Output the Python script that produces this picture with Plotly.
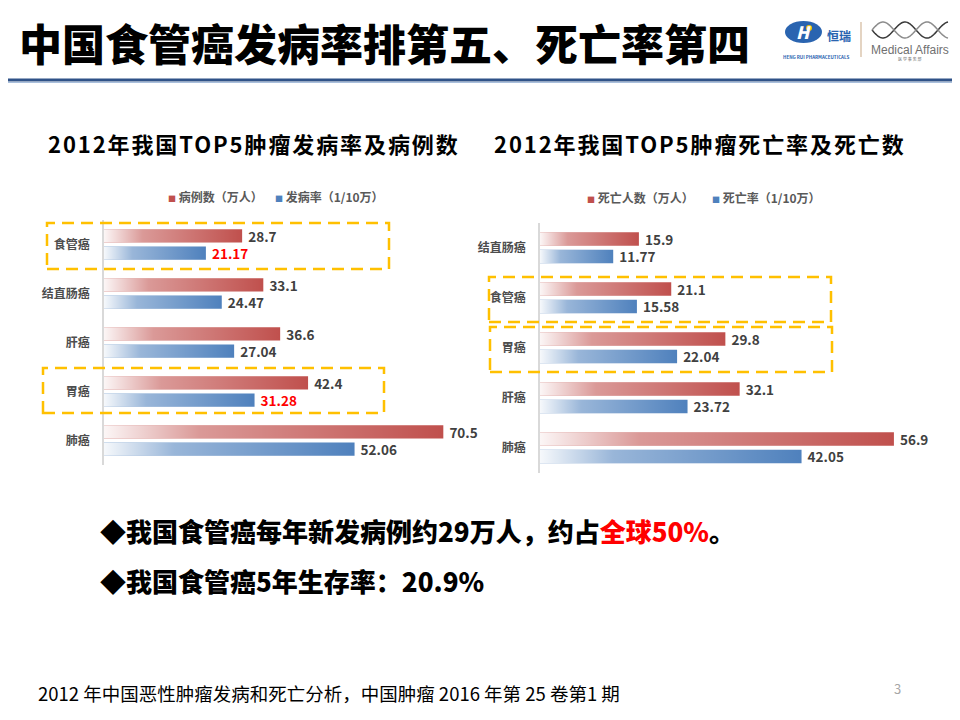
import math
import plotly.graph_objects as go

W, H = 960, 720
FONT = "Noto Sans CJK SC"
# the page body adds an 8px margin; compensate so screen positions match
SHIFT = 8


def px(x):
    return (x - SHIFT) / W


def py(y):
    return 1 - (y - SHIFT) / H


# ---------------- data ----------------
inc_categories = ["食管癌", "结直肠癌", "肝癌", "胃癌", "肺癌"]
inc_cases = [28.7, 33.1, 36.6, 42.4, 70.5]          # 病例数（万人）
inc_rate = [21.17, 24.47, 27.04, 31.28, 52.06]      # 发病率（1/10万）
inc_rate_highlight = [True, False, False, True, False]

mort_categories = ["结直肠癌", "食管癌", "胃癌", "肝癌", "肺癌"]
mort_deaths = [15.9, 21.1, 29.8, 32.1, 56.9]        # 死亡人数（万人）
mort_rate = [11.77, 15.58, 22.04, 23.72, 42.05]     # 死亡率（1/10万）
mort_rate_highlight = [False, False, False, False, False]

inc_series_names = ["病例数（万人）", "发病率（1/10万）"]
mort_series_names = ["死亡人数（万人）", "死亡率（1/10万）"]

RED = "#c0504d"
BLUE = "#4f81bd"
LABEL_GREY = "#404040"
HILITE = "#ff0000"

RED_OFF, BLUE_OFF, BW = -0.31, 0.04, 0.27

fig = go.Figure()

FADE = [[0, "rgba(255,255,255,0.95)"], [0.28, "rgba(255,255,255,0.42)"],
        [1, "rgba(255,255,255,0)"]]


def add_panel(cats, v_red, v_blue, names, blue_hl, xa, ya):
    idx = list(range(len(cats)))
    for vals, off, color, name, dec, hl in (
        (v_red, RED_OFF, RED, names[0], 1, [False] * len(cats)),
        (v_blue, BLUE_OFF, BLUE, names[1], 2, blue_hl),
    ):
        fig.add_trace(go.Bar(
            x=vals, y=idx, orientation="h", name=name,
            width=BW, offset=off,
            marker=dict(color=color, line=dict(width=0)),
            text=[" " + f"{v:.{dec}f}" for v in vals],
            textposition="outside", constraintext="none", cliponaxis=False,
            textfont=dict(family=FONT, size=13.5, weight="bold",
                          color=[HILITE if h else LABEL_GREY for h in hl]),
            xaxis=xa, yaxis=ya, showlegend=False, hoverinfo="skip",
        ))
        # white fade overlay on each bar -> gradient look
        for i, v in zip(idx, vals):
            y0, y1 = i + off, i + off + BW
            fig.add_trace(go.Scatter(
                x=[0, v, v, 0, 0], y=[y0, y0, y1, y1, y0],
                mode="lines", line=dict(width=0), fill="toself",
                fillgradient=dict(type="horizontal", colorscale=FADE),
                xaxis=xa, yaxis=ya, showlegend=False, hoverinfo="skip",
            ))


add_panel(inc_categories, inc_cases, inc_rate, inc_series_names,
          inc_rate_highlight, "x", "y")
add_panel(mort_categories, mort_deaths, mort_rate, mort_series_names,
          mort_rate_highlight, "x2", "y2")

# axis geometry (screen pixels)
L_X0, L_SCALE, L_X1, L_YT, L_YB = 104, 4.813, 480, 220, 465
R_X0, R_SCALE, R_X1, R_YT, R_YB = 540, 6.22, 930, 222.7, 472.7

yax_common = dict(
    range=[4.5, -0.5], showline=True, linecolor="#d9d9d9", linewidth=1.5,
    showgrid=False, zeroline=False, ticks="", ticklabelstandoff=10,
    tickfont=dict(family=FONT, size=12, color="#4d4d4d", weight="bold"),
    fixedrange=True,
)

fig.update_layout(
    width=W, height=H, margin=dict(l=0, r=0, t=0, b=0),
    paper_bgcolor="white", plot_bgcolor="rgba(0,0,0,0)",
    barmode="overlay", showlegend=False,
    font=dict(family=FONT),
    xaxis=dict(domain=[px(L_X0), px(L_X1)],
               range=[0, (L_X1 - L_X0) / L_SCALE], visible=False,
               anchor="y", fixedrange=True),
    yaxis=dict(domain=[py(L_YB), py(L_YT)], anchor="x",
               tickvals=list(range(len(inc_categories))),
               ticktext=inc_categories, **yax_common),
    xaxis2=dict(domain=[px(R_X0), px(R_X1)],
                range=[0, (R_X1 - R_X0) / R_SCALE], visible=False,
                anchor="y2", fixedrange=True),
    yaxis2=dict(domain=[py(R_YB), py(R_YT)], anchor="x2",
                tickvals=list(range(len(mort_categories))),
                ticktext=mort_categories, **yax_common),
)

ann = []


def text(x, y, t, size, color="black", weight="normal", xanchor="left",
         family=FONT):
    ann.append(dict(x=px(x), y=py(y), xref="paper", yref="paper", text=t,
                    showarrow=False, xanchor=xanchor, yanchor="middle",
                    font=dict(family=family, size=size, color=color,
                              weight=weight)))


# title
text(17, 42, "中国食管癌发病率排第五、死亡率第四", 43, weight=900)

# subtitles
text(46, 143, '<span style="letter-spacing:1.9px">2012年我国TOP5肿瘤发病率及病例数</span>',
     22, weight="bold")
text(492, 143, '<span style="letter-spacing:1.9px">2012年我国TOP5肿瘤死亡率及死亡数</span>',
     22, weight="bold")


# legends
def legend_item(x, y, color, label):
    text(x, y, f'<span style="color:{color};font-size:8px">■</span> {label}',
         12, color="#595959", weight="bold")


legend_item(166, 197, RED, inc_series_names[0])
legend_item(273, 197, BLUE, inc_series_names[1])
legend_item(585, 198, RED, mort_series_names[0])
legend_item(710, 198, BLUE, mort_series_names[1])

# bullets
text(98, 530, '◆我国食管癌每年新发病例约29万人，约占'
     '<span style="color:#ff0000">全球50%</span>。', 26, weight=900)
text(98, 580, '◆我国食管癌5年生存率：20.9%', 26, weight=900)

# footer
text(36, 693, "2012 年中国恶性肿瘤发病和死亡分析，中国肿瘤 2016 年第 25 卷第1 期",
     18.5, color="black")
text(897, 688, "3", 13, color="#a6a6a6", xanchor="center")

# logo texts
text(803, 32, "<i>H</i>", 17, color="white", weight=900, xanchor="center")
text(839, 36, "恒瑞", 12, color="#2a64b0", weight="bold", xanchor="center")
text(816, 57, "HENG RUI PHARMACEUTICALS", 4.5, color="#2a64b0",
     xanchor="center", weight="bold")
text(910, 50, "Medical Affairs", 12, color="#707070", xanchor="center",
     family="Liberation Sans")
text(910, 59, "医 学 事 务 部", 4, color="#707070", xanchor="center")

fig.update_layout(annotations=ann)

shapes = []


def rect(x0, y0, x1, y1, **kw):
    shapes.append(dict(type="rect", xref="paper", yref="paper",
                       x0=px(x0), x1=px(x1), y0=py(y1), y1=py(y0), **kw))


def line(x0, y0, x1, y1, color, width):
    shapes.append(dict(type="line", xref="paper", yref="paper",
                       x0=px(x0), x1=px(x1), y0=py(y0), y1=py(y1),
                       line=dict(color=color, width=width)))


# header rule
line(0, 80, 975, 80, "#2f5288", 3)
line(0, 82.5, 975, 82.5, "#a9bfdc", 1)

# dashed highlight boxes
box = dict(line=dict(color="#ffc000", width=2.5, dash="12px,7px"),
           fillcolor="rgba(0,0,0,0)")
rect(47, 223, 389, 269, **box)
rect(43, 368, 384, 413, **box)
rect(489, 277, 831, 322, **box)
rect(490, 327, 832, 372, **box)

# logo shapes
shapes.append(dict(type="circle", xref="paper", yref="paper",
                   x0=px(785), x1=px(822), y0=py(43), y1=py(21),
                   fillcolor="#2a64b0", line=dict(width=0), layer="below"))
shapes.append(dict(type="circle", xref="paper", yref="paper",
                   x0=px(806), x1=px(812), y0=py(31), y1=py(25),
                   fillcolor="#f5c400", line=dict(width=0)))
line(861, 22, 861, 57, "#d2b89a", 1.2)


def helix(phase, color):
    pts = []
    n = 80
    for k in range(n + 1):
        x = 872 + 76 * k / n
        y = 30 + 8 * math.sin(2 * math.pi * (x - 872) / 44 + phase)
        pts.append(f"{px(x):.5f},{py(y):.5f}")
    return dict(type="path", xref="paper", yref="paper",
                path="M" + " L".join(pts), line=dict(color=color, width=1.5))


shapes.append(helix(0, "#3a3a3a"))
shapes.append(helix(math.pi, "#8c8c8c"))

fig.update_layout(shapes=shapes)

fig.write_html("out.html")
